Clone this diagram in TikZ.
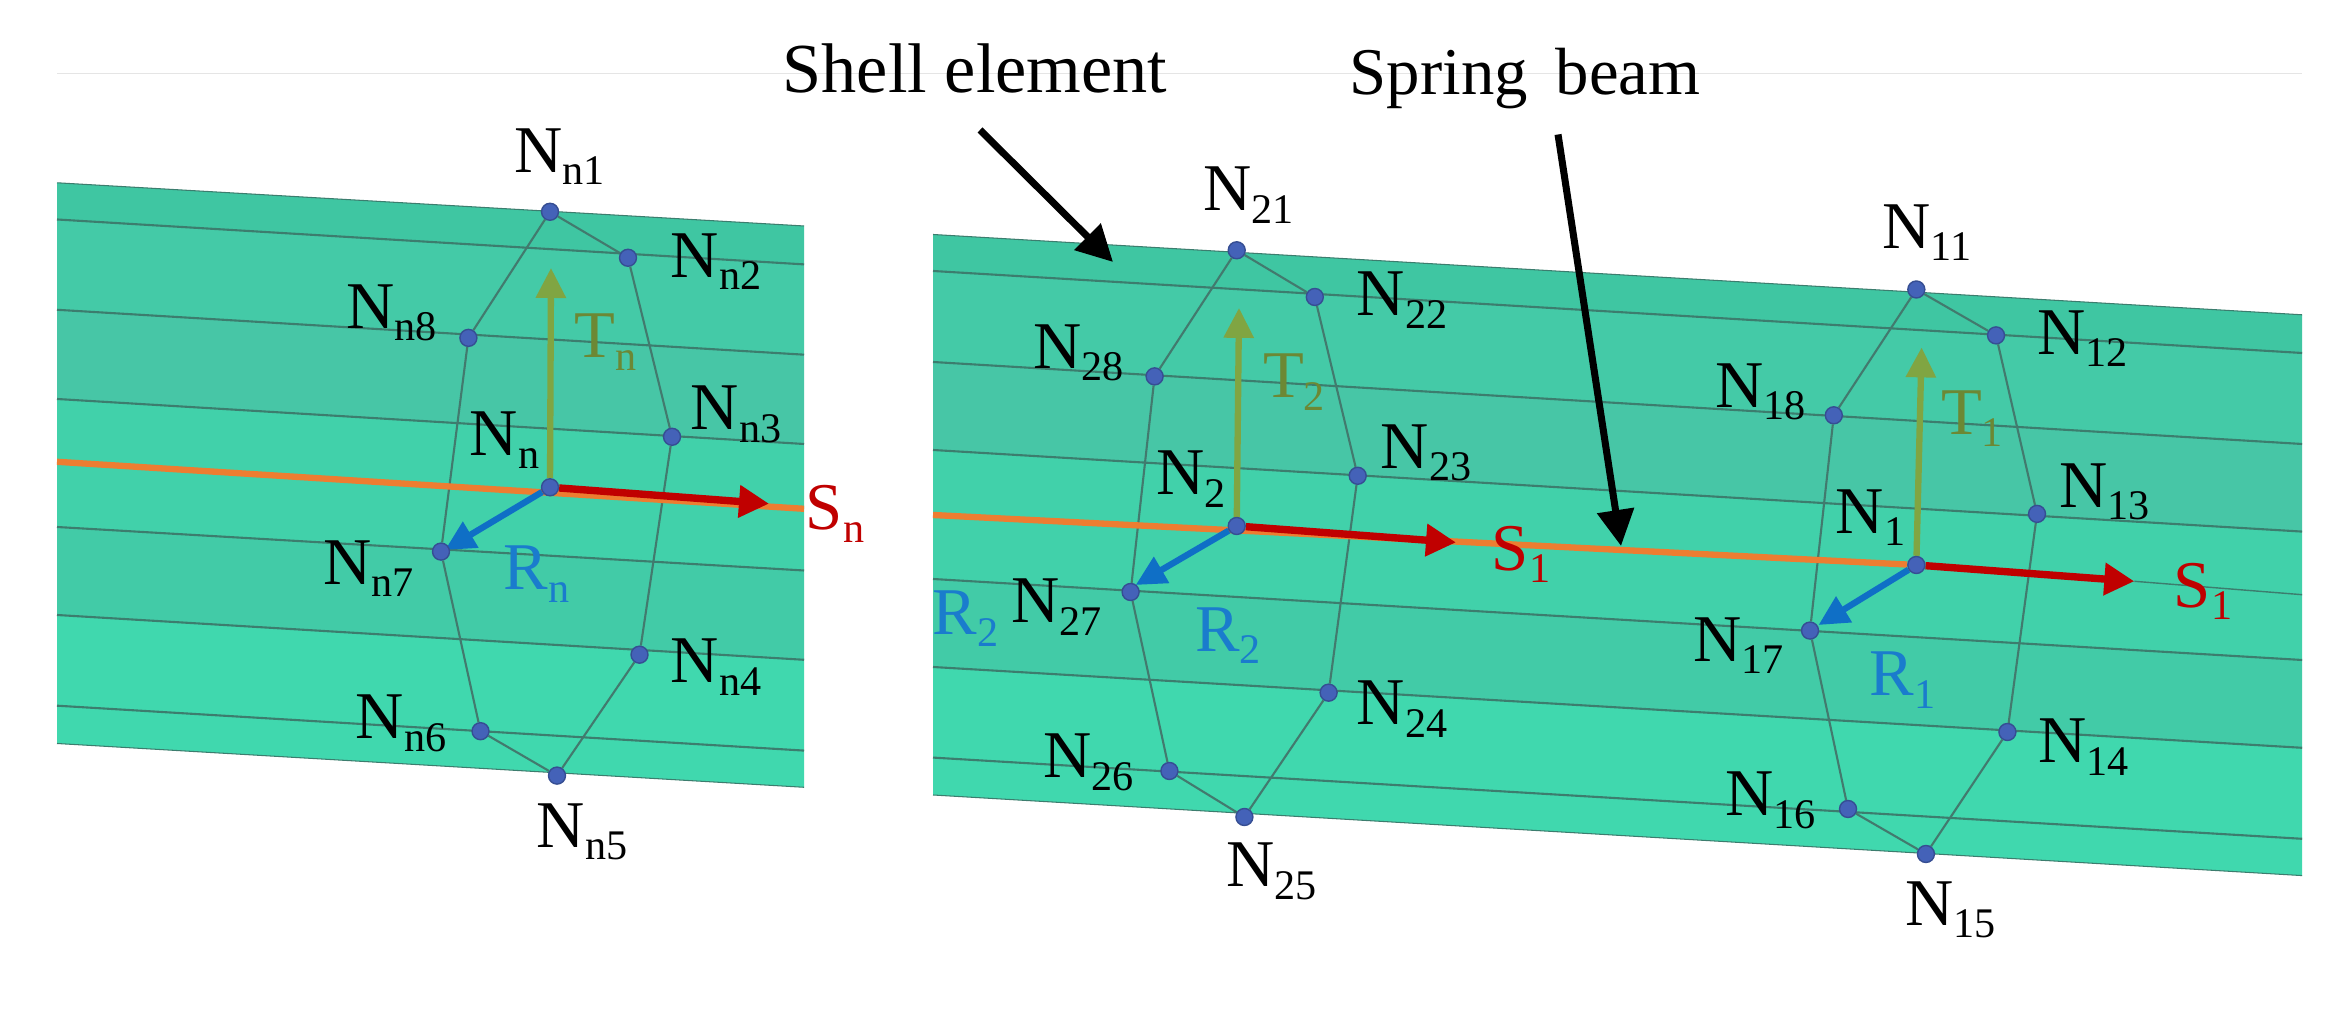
\documentclass[tikz,border=0pt]{standalone}
\usepackage{fontspec}
\setmainfont{Liberation Serif}
\usetikzlibrary{arrows.meta}
\pgfdeclarelayer{front}
\pgfsetlayers{main,front}
\definecolor{bandA}{RGB}{63,198,162}
\definecolor{bandB}{RGB}{68,202,167}
\definecolor{bandC}{RGB}{71,198,166}
\definecolor{bandD}{RGB}{65,209,170}
\definecolor{bandE}{RGB}{66,203,167}
\definecolor{bandF}{RGB}{64,216,174}
\definecolor{meshline}{RGB}{60,125,110}
\definecolor{ribline}{RGB}{66,122,110}
\definecolor{beamline}{RGB}{237,125,49}
\definecolor{axisT}{RGB}{128,165,66}
\definecolor{axisR}{RGB}{15,111,198}
\definecolor{axisS}{RGB}{192,0,0}
\definecolor{textT}{RGB}{108,136,52}
\definecolor{textR}{RGB}{26,124,205}
\definecolor{dotblue}{RGB}{68,98,184}
\newcommand{\subl}[2]{#1{\fontsize{12}{12}\selectfont\raisebox{-3.6pt}{#2}}}
\tikzset{mesh/.style={draw=meshline,line width=.6pt},
 rib/.style={draw=ribline,line width=.6pt},
 beam/.style={draw=beamline,line width=1.8pt},
 dot/.style={circle,fill=dotblue,draw=dotblue!80!black,line width=.4pt,inner sep=0pt,minimum size=.17cm},
 nlab/.style={inner sep=0pt,font=\fontsize{19}{21}\selectfont},
 axT/.style={draw=axisT,line width=1.8pt,-{Triangle[length=.3cm,width=.29cm]}},
 axR/.style={draw=axisR,line width=1.8pt,-{Triangle[length=.3cm,width=.29cm]}},
 axS/.style={draw=axisS,line width=2.1pt,-{Triangle[length=.3cm,width=.31cm]}},
 pointer/.style={draw=black,line width=2pt,-{Triangle[length=.36cm,width=.36cm]}},
 every picture/.style={line join=round}}
\begin{document}
\begin{tikzpicture}[]
\useasboundingbox (0,0) rectangle (23.48,10.17);
\path[fill=white] (0,0) rectangle (23.48,10.17);
\draw[draw=black!10,line width=.4pt] (0.57,9.435) -- (23.02,9.435);
\path[fill=bandA] (0.570,8.342) -- (8.040,7.910) -- (8.040,7.526) -- (0.570,7.975) -- cycle;
\path[fill=bandB] (0.570,7.975) -- (8.040,7.526) -- (8.040,6.623) -- (0.570,7.072) -- cycle;
\path[fill=bandC] (0.570,7.072) -- (8.040,6.623) -- (8.040,5.730) -- (0.570,6.180) -- cycle;
\path[fill=bandD] (0.570,6.180) -- (8.040,5.730) -- (8.040,4.465) -- (0.570,4.900) -- cycle;
\path[fill=bandE] (0.570,4.900) -- (8.040,4.465) -- (8.040,3.572) -- (0.570,4.020) -- cycle;
\path[fill=bandF] (0.570,4.020) -- (8.040,3.572) -- (8.040,2.297) -- (0.570,2.735) -- cycle;
\path[fill=bandA] (9.330,7.825) -- (23.020,7.022) -- (23.020,6.640) -- (9.330,7.460) -- cycle;
\path[fill=bandB] (9.330,7.460) -- (23.020,6.640) -- (23.020,5.730) -- (9.330,6.550) -- cycle;
\path[fill=bandC] (9.330,6.550) -- (23.020,5.730) -- (23.020,4.854) -- (9.330,5.670) -- cycle;
\path[fill=bandD] (9.330,5.670) -- (23.020,4.854) -- (23.020,3.570) -- (9.330,4.380) -- cycle;
\path[fill=bandE] (9.330,4.380) -- (23.020,3.570) -- (23.020,2.692) -- (9.330,3.500) -- cycle;
\path[fill=bandF] (9.330,3.500) -- (23.020,2.692) -- (23.020,1.414) -- (9.330,2.220) -- cycle;
\draw[mesh] (0.570,7.975) -- (8.040,7.526);
\draw[mesh] (0.570,7.072) -- (8.040,6.623);
\draw[mesh] (0.570,6.180) -- (8.040,5.730);
\draw[mesh] (0.570,4.900) -- (8.040,4.465);
\draw[mesh] (0.570,4.020) -- (8.040,3.572);
\draw[mesh] (0.570,3.113) -- (8.040,2.664);
\draw[mesh,line width=.3pt] (0.570,8.342) -- (8.040,7.910);
\draw[mesh,line width=.3pt] (0.570,2.735) -- (8.040,2.297);
\draw[mesh] (9.330,7.460) -- (23.020,6.640);
\draw[mesh] (9.330,6.550) -- (23.020,5.730);
\draw[mesh] (9.330,5.670) -- (23.020,4.854);
\draw[mesh] (9.330,4.380) -- (23.020,3.570);
\draw[mesh] (9.330,3.500) -- (23.020,2.692);
\draw[mesh] (9.330,2.594) -- (23.020,1.782);
\draw[mesh,line width=.3pt] (9.330,7.825) -- (23.020,7.022);
\draw[mesh,line width=.3pt] (9.330,2.220) -- (23.020,1.414);
\begin{pgfonlayer}{front}
\node[dot] (cn) at (5.500,5.297) {};
\node[dot] (n1) at (5.500,8.052) {};
\node[dot] (n2) at (6.280,7.592) {};
\node[dot] (n3) at (6.720,5.802) {};
\node[dot] (n4) at (6.395,3.623) {};
\node[dot] (n5) at (5.570,2.414) {};
\node[dot] (n6) at (4.805,2.858) {};
\node[dot] (n7) at (4.410,4.654) {};
\node[dot] (n8) at (4.684,6.791) {};
\node[dot] (c2) at (12.367,4.910) {};
\node[dot] (a1) at (12.367,7.667) {};
\node[dot] (a2) at (13.148,7.200) {};
\node[dot] (a3) at (13.577,5.412) {};
\node[dot] (a4) at (13.286,3.243) {};
\node[dot] (a5) at (12.444,2.000) {};
\node[dot] (a6) at (11.694,2.460) {};
\node[dot] (a7) at (11.306,4.250) {};
\node[dot] (a8) at (11.546,6.406) {};
\node[dot] (c1) at (19.163,4.520) {};
\node[dot] (b1) at (19.163,7.275) {};
\node[dot] (b2) at (19.960,6.816) {};
\node[dot] (b3) at (20.370,5.031) {};
\node[dot] (b4) at (20.074,2.850) {};
\node[dot] (b5) at (19.259,1.630) {};
\node[dot] (b6) at (18.480,2.080) {};
\node[dot] (b7) at (18.100,3.864) {};
\node[dot] (b8) at (18.338,6.017) {};
\end{pgfonlayer}
\coordinate (bl) at (0.570,5.552);
\coordinate (br) at (8.040,5.082);
\coordinate (ml) at (9.330,5.020);
\coordinate (mr) at (23.020,4.223);
\coordinate (tn) at (5.510,7.490);
\coordinate (sn) at (7.690,5.133);
\coordinate (rn) at (4.450,4.670);
\coordinate (t2) at (12.390,7.091);
\coordinate (s2) at (14.560,4.746);
\coordinate (r2) at (11.357,4.320);
\coordinate (t1) at (19.216,6.696);
\coordinate (s1) at (21.343,4.357);
\coordinate (r1) at (18.185,3.920);
\coordinate (ps) at (9.800,8.870);
\coordinate (qs) at (11.130,7.550);
\coordinate (pb) at (15.580,8.825);
\coordinate (qb) at (16.210,4.710);
\draw[rib] (n1) -- (n2) -- (n3) -- (n4) -- (n5) -- (n6) -- (n7) -- (n8) -- (n1);
\draw[rib] (a1) -- (a2) -- (a3) -- (a4) -- (a5) -- (a6) -- (a7) -- (a8) -- (a1);
\draw[rib] (b1) -- (b2) -- (b3) -- (b4) -- (b5) -- (b6) -- (b7) -- (b8) -- (b1);
\draw[beam] (bl) -- (br);
\draw[beam] (ml) -- (c1);
\draw[mesh,line width=.4pt] (s1) -- (mr);
\draw[axT] (cn) -- (tn);
\draw[axS] (cn) -- (sn);
\draw[axR] (cn) -- (rn);
\draw[axT] (c2) -- (t2);
\draw[axS] (c2) -- (s2);
\draw[axR] (c2) -- (r2);
\draw[axT] (c1) -- (t1);
\draw[axS] (c1) -- (s1);
\draw[axR] (c1) -- (r1);
\draw[pointer] (ps) -- (qs);
\draw[pointer] (pb) -- (qb);
\node[font=\fontsize{20}{22}\selectfont,inner sep=0pt] (shell) at (9.750,9.490) {Shell element};
\node[font=\fontsize{19}{21}\selectfont,inner sep=0pt] (spring) at (15.250,9.385) {Spring\, beam};
\node[nlab] (ln1) at (5.597,8.603) {\subl{N}{n1}};
\node[nlab] (ln2) at (7.160,7.552) {\subl{N}{n2}};
\node[nlab] (ln3) at (7.360,6.026) {\subl{N}{n3}};
\node[nlab] (ln4) at (7.160,3.496) {\subl{N}{n4}};
\node[nlab] (ln5) at (5.820,1.853) {\subl{N}{n5}};
\node[nlab] (ln6) at (4.010,2.934) {\subl{N}{n6}};
\node[nlab] (ln7) at (3.686,4.485) {\subl{N}{n7}};
\node[nlab] (ln8) at (3.915,7.041) {\subl{N}{n8}};
\node[nlab] (lcn) at (5.046,5.766) {\subl{N}{n}};
\node[nlab,text=textT] (ltn) at (6.056,6.750) {\subl{T}{n}};
\node[nlab,text=textR] (lrn) at (5.367,4.430) {\subl{R}{n}};
\node[nlab,text=axisS] (lsn) at (8.350,5.031) {\subl{S}{n}};
\node[nlab] (la1) at (12.485,8.220) {\subl{N}{21}};
\node[nlab] (la2) at (14.020,7.170) {\subl{N}{22}};
\node[nlab] (la3) at (14.260,5.643) {\subl{N}{23}};
\node[nlab] (la4) at (14.020,3.080) {\subl{N}{24}};
\node[nlab] (la5) at (12.714,1.455) {\subl{N}{25}};
\node[nlab] (la6) at (10.888,2.546) {\subl{N}{26}};
\node[nlab] (la7) at (10.566,4.100) {\subl{N}{27}};
\node[nlab] (la8) at (10.786,6.640) {\subl{N}{28}};
\node[nlab] (lc2) at (11.910,5.380) {\subl{N}{2}};
\node[nlab,text=textT] (lt2) at (12.940,6.350) {\subl{T}{2}};
\node[nlab,text=textR] (lr2) at (12.280,3.812) {\subl{R}{2}};
\node[nlab,text=textR] (lq2) at (9.653,3.982) {\subl{R}{2}};
\node[nlab,text=axisS] (ls2) at (15.210,4.625) {\subl{S}{1}};
\node[nlab] (lb1) at (19.268,7.845) {\subl{N}{11}};
\node[nlab] (lb2) at (20.823,6.782) {\subl{N}{12}};
\node[nlab] (lb3) at (21.043,5.251) {\subl{N}{13}};
\node[nlab] (lb4) at (20.838,2.696) {\subl{N}{14}};
\node[nlab] (lb5) at (19.507,1.070) {\subl{N}{15}};
\node[nlab] (lb6) at (17.703,2.165) {\subl{N}{16}};
\node[nlab] (lb7) at (17.384,3.715) {\subl{N}{17}};
\node[nlab] (lb8) at (17.603,6.251) {\subl{N}{18}};
\node[nlab] (lc1) at (18.705,4.993) {\subl{N}{1}};
\node[nlab,text=textT] (lt1) at (19.720,5.983) {\subl{T}{1}};
\node[nlab,text=textR] (lr1) at (19.025,3.370) {\subl{R}{1}};
\node[nlab,text=axisS] (ls1) at (22.030,4.256) {\subl{S}{1}};
\end{tikzpicture}
\end{document}
